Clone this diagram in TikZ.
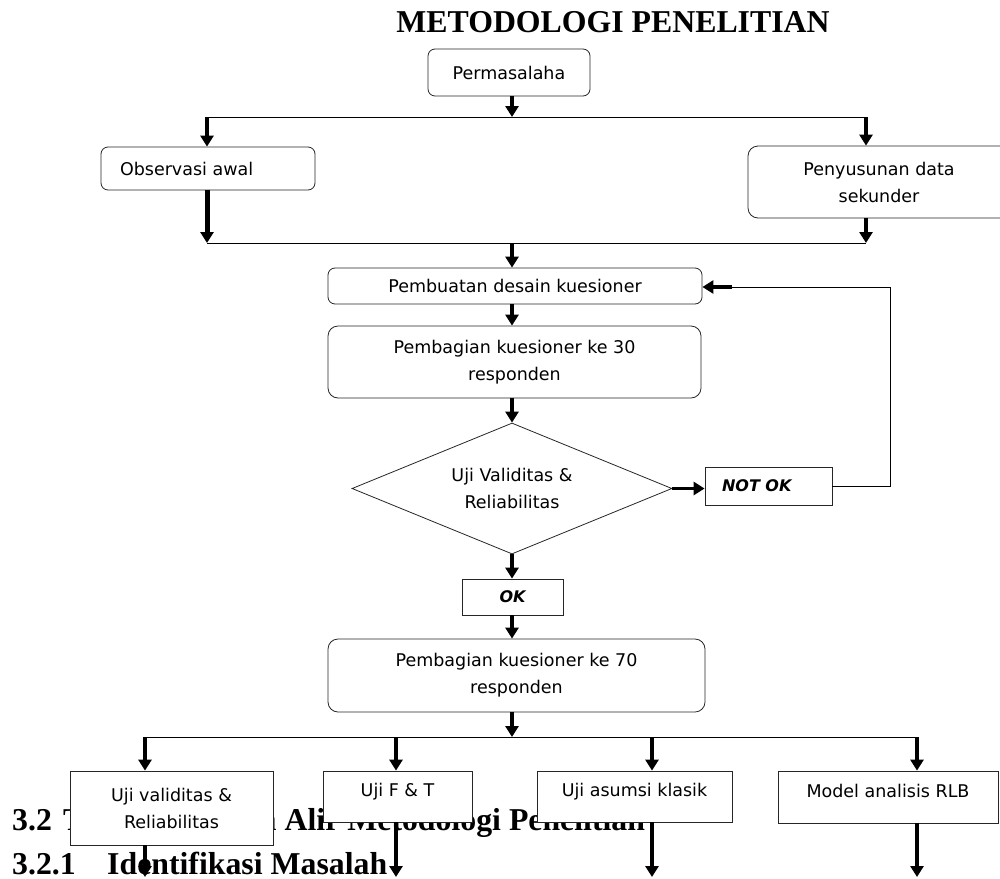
\documentclass[tikz,border=0pt]{standalone}
\usepackage{fontspec}
\setmainfont{Liberation Serif}
\newfontfamily\boxfont{DejaVu Sans}
\usetikzlibrary{arrows.meta,shapes.geometric}
\begin{document}
\begin{tikzpicture}[x=1pt,y=-1pt,
  box/.style={draw=black!85, line width=0.8pt, fill=white, inner sep=0pt,
    font=\boxfont\fontsize{17.5}{27}\selectfont, align=center},
  rbox/.style={box, rounded corners=7pt},
  bbox/.style={box, font=\boxfont\fontsize{16}{20}\selectfont\bfseries\itshape},
  conn/.style={line width=0.9pt},
  fl/.style={line width=3.5pt, -{Triangle[width=13pt,length=11pt]}},
  hd/.style={font=\fontsize{31.8}{36}\selectfont\bfseries, inner sep=0pt}]
\useasboundingbox (0,0) rectangle (1000,878);

% headings (partly covered by boxes)
\node[hd, anchor=base] (title) at (613,32) {METODOLOGI PENELITIAN};
\node[hd, anchor=base west] (h32n) at (12,830) {3.2};
\node[hd, anchor=base west] (h32t) at (63,830) {Tahap Diagram Alir Metodologi Penelitian};
\node[hd, anchor=base west] (h321n) at (12,874) {3.2.1};
\node[hd, anchor=base west] (h321t) at (107,874) {Identifikasi Masalah};

% boxes
\node[rbox, minimum width=162pt, minimum height=47pt] (perm) at (509,72.5) {Permasalaha};
\node[rbox, minimum width=214pt, minimum height=43pt] (obs) at (208,168.5)
  {\makebox[214pt][l]{\hspace{19pt}Observasi awal}};
\node[rbox, rounded corners=10pt, minimum width=262pt, minimum height=72pt] (peny) at (879,182)
  {Penyusunan data\\sekunder};
\node[rbox, minimum width=374pt, minimum height=36pt] (pemb) at (515,286) {Pembuatan desain kuesioner};
\node[rbox, rounded corners=10pt, minimum width=373pt, minimum height=72pt] (b30) at (514.5,362)
  {Pembagian kuesioner ke 30\\responden};
\node[box, diamond, aspect=2.44, minimum width=320pt, minimum height=131pt] (uji) at (512,488.5)
  {Uji Validitas \&\\Reliabilitas};
\node[bbox, minimum width=127pt, minimum height=38pt] (notok) at (768.5,486)
  {\makebox[127pt][l]{\hspace{17pt}NOT OK}};
\node[bbox, minimum width=101pt, minimum height=36pt] (ok) at (512.5,597) {OK};
\node[rbox, rounded corners=10pt, minimum width=377pt, minimum height=73pt] (b70) at (516.5,675.5)
  {Pembagian kuesioner ke 70\\responden};
\node[box, minimum width=203pt, minimum height=74pt] (u1) at (171.5,808)
  {Uji validitas \&\\Reliabilitas};
\node[box, minimum width=149pt, minimum height=51pt, text height=13pt, text depth=13pt] (u2) at (397.5,796.5)
  {Uji F \& T};
\node[box, minimum width=195pt, minimum height=51pt, text height=13pt, text depth=13pt] (u3) at (634.5,796.5)
  {Uji asumsi klasik};
\node[box, minimum width=220pt, minimum height=52pt, text height=13pt, text depth=13pt] (u4) at (888,797)
  {Model analisis RLB};

% junction points
\coordinate (j1) at (512,117);
\coordinate (j1L) at (207,117);
\coordinate (j1R) at (866,117);
\coordinate (j2) at (512,243);
\coordinate (j2L) at (207,243);
\coordinate (j2R) at (866,243);
\coordinate (fbB) at (890,486);
\coordinate (fbT) at (890,287);
\coordinate (fbA) at (732,287);
\coordinate (j3) at (512,737);
\coordinate (j3a) at (145,737);
\coordinate (j3b) at (396,737);
\coordinate (j3c) at (652,737);
\coordinate (j3d) at (917,737);
\coordinate (e1) at (145,877);
\coordinate (e2) at (396,877);
\coordinate (e3) at (652,877);
\coordinate (e4) at (917,877);

% connectors
\draw[fl] (perm.south -| j1) -- (j1);
\draw[conn] (j1L) -- (j1R);
\draw[fl] (j1L) -- (obs.north -| j1L);
\draw[fl] (j1R) -- (peny.north -| j1R);
\draw[fl, line width=5pt] (obs.south -| j2L) -- (j2L);
\draw[fl] (peny.south -| j2R) -- (j2R);
\draw[conn] (j2L) -- (j2R);
\draw[fl] (j2) -- (pemb.north -| j2);
\draw[fl] (pemb.south -| j2) -- (b30.north -| j2);
\draw[fl] (b30.south -| j2) -- (uji.north);
\draw[fl] (uji.east) -- (notok.west |- uji.east);
\draw[conn] (notok.east |- fbB) -- (fbB) -- (fbT) -- (fbA);
\draw[fl] (fbA) -- (pemb.east |- fbA);
\draw[fl] (uji.south) -- (ok.north -| uji.south);
\draw[fl] (ok.south -| uji.south) -- (b70.north -| uji.south);
\draw[fl] (b70.south -| j3) -- (j3);
\draw[conn] (j3a) -- (j3d);
\draw[fl] (j3a) -- (u1.north -| j3a);
\draw[fl] (j3b) -- (u2.north -| j3b);
\draw[fl] (j3c) -- (u3.north -| j3c);
\draw[fl] (j3d) -- (u4.north -| j3d);
\draw[fl] (u1.south -| e1) -- (e1);
\draw[fl] (u2.south -| e2) -- (e2);
\draw[fl] (u3.south -| e3) -- (e3);
\draw[fl] (u4.south -| e4) -- (e4);
\end{tikzpicture}
\end{document}
